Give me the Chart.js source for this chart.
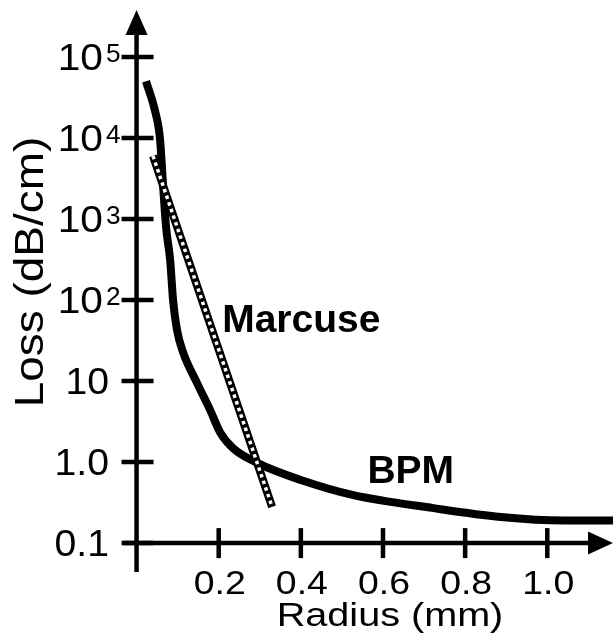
<!DOCTYPE html>
<html>
<head>
<meta charset="utf-8">
<script src="https://cdn.jsdelivr.net/npm/chart.js@4"></script>
<style>
  html, body { margin: 0; padding: 0; background: #fff; }
  #wrap { width: 613px; height: 643px; }
</style>
</head>
<body>
<div id="wrap"><canvas id="lossChart"></canvas></div>
<script>
// data
const bpmRadius = [0.023, 0.045, 0.057, 0.065, 0.072, 0.082, 0.089, 0.0985, 0.113, 0.148, 0.179, 0.204, 0.235, 0.295, 0.40, 0.528, 0.723, 0.887, 1.04, 1.16]
const bpmLoss = [50000, 21500, 9800, 2400, 780, 305, 98, 42.6, 22.8, 9.3, 4.4, 2.3, 1.48, 0.97, 0.6, 0.39, 0.27, 0.21, 0.19, 0.19]
const marcuseRadius = [0.04, 0.33]
const marcuseLoss = [6000, 0.28]

const xTicks = [0.2, 0.4, 0.6, 0.8, 1.0]
const xTickLabels = ['0.2', '0.4', '0.6', '0.8', '1.0']
const yTicks = [1e5, 1e4, 1e3, 1e2, 10, 1, 0.1]
const yTickBase = ['10', '10', '10', '10', '10', '1.0', '0.1']
const yTickExp = ['5', '4', '3', '2', '', '', '']

const curveNames = ['Marcuse', 'BPM']
const curveLabelAt = [[0.2085, 40], [0.562, 0.55]]

const FONT = '"Liberation Sans", Arial, Helvetica, sans-serif'

function txt(ctx, s, x, y, size, sx, align, bold) {
  ctx.save()
  ctx.font = (bold ? 'bold ' : '') + size + 'px ' + FONT
  ctx.fillStyle = '#000'
  ctx.textAlign = align
  ctx.textBaseline = 'alphabetic'
  ctx.translate(x, y)
  ctx.scale(sx, 1)
  ctx.fillText(s, 0, 0)
  ctx.restore()
}

// axes with arrows, ticks crossing the axis, and all text
const axesPlugin = {
  id: 'axesPlugin',
  beforeDatasetsDraw(chart) {
    const ctx = chart.ctx
    const xs = chart.scales.x, ys = chart.scales.y
    const a = chart.chartArea
    const x0 = xs.getPixelForValue(0)
    const y0 = ys.getPixelForValue(0.1)
    ctx.save()
    ctx.strokeStyle = '#000'
    ctx.fillStyle = '#000'
    ctx.lineWidth = 4.5
    ctx.lineCap = 'butt'
    // y axis
    ctx.beginPath()
    ctx.moveTo(x0, a.bottom)
    ctx.lineTo(x0, a.top + 20)
    ctx.stroke()
    ctx.beginPath()
    ctx.moveTo(x0, a.top)
    ctx.lineTo(x0 - 11, a.top + 25)
    ctx.lineTo(x0 + 11, a.top + 25)
    ctx.closePath()
    ctx.fill()
    // x axis
    ctx.beginPath()
    ctx.moveTo(a.left, y0)
    ctx.lineTo(a.right - 20, y0)
    ctx.stroke()
    ctx.beginPath()
    ctx.moveTo(a.right, y0)
    ctx.lineTo(a.right - 25, y0 - 11.5)
    ctx.lineTo(a.right - 25, y0 + 11.5)
    ctx.closePath()
    ctx.fill()
    // y ticks
    yTicks.forEach(v => {
      const py = ys.getPixelForValue(v)
      ctx.beginPath()
      ctx.moveTo(x0 - 15, py)
      ctx.lineTo(x0 + 17, py)
      ctx.stroke()
    })
    // x ticks
    xTicks.forEach(v => {
      const px = xs.getPixelForValue(v)
      ctx.beginPath()
      ctx.moveTo(px, y0 - 15)
      ctx.lineTo(px, y0 + 15)
      ctx.stroke()
    })
    ctx.restore()

    // y tick labels
    yTicks.forEach((v, i) => {
      const py = ys.getPixelForValue(v)
      if (yTickExp[i]) {
        txt(ctx, yTickBase[i], 103, py + 13, 37, 1.1, 'right')
        txt(ctx, yTickExp[i], 106, py + 5, 25, 1.05, 'left')
      } else {
        txt(ctx, yTickBase[i], 109, py + 13, 37, 1.06, 'right')
      }
    })
    // x tick labels
    xTicks.forEach((v, i) => {
      txt(ctx, xTickLabels[i], xs.getPixelForValue(v) + 1, y0 + 51, 34, 1.1, 'center')
    })
    // axis titles
    txt(ctx, 'Radius (mm)', 390, 626, 33, 1.2, 'center')
    ctx.save()
    ctx.translate(43, 272)
    ctx.rotate(-Math.PI / 2)
    txt(ctx, 'Loss (dB/cm)', 0, 0, 41, 1.12, 'center')
    ctx.restore()
    // curve names
    curveNames.forEach((n, i) => {
      const p = curveLabelAt[i]
      txt(ctx, n, xs.getPixelForValue(p[0]), ys.getPixelForValue(p[1]), 39, 1, 'left', true)
    })
  }
}

const ctx = document.getElementById('lossChart').getContext('2d')
const chart = new Chart(ctx, {
  type: 'scatter',
  data: {
    datasets: [
      {
        label: 'BPM',
        data: bpmRadius.map((r, i) => ({ x: r, y: bpmLoss[i] })),
        showLine: true,
        borderColor: '#000',
        borderWidth: 8,
        borderCapStyle: 'butt',
        cubicInterpolationMode: 'monotone',
        pointRadius: 0,
        order: 2,
      },
      {
        // black body of the checkered Marcuse line
        label: 'Marcuse',
        data: marcuseRadius.map((r, i) => ({ x: r, y: marcuseLoss[i] })),
        showLine: true,
        borderColor: '#000',
        borderWidth: 8,
        borderCapStyle: 'butt',
        pointRadius: 0,
        order: 1,
      },
      {
        // white checks on top
        label: 'Marcuse dots',
        data: marcuseRadius.map((r, i) => ({ x: r, y: marcuseLoss[i] })),
        showLine: true,
        borderColor: '#fff',
        borderWidth: 3.5,
        borderDash: [3.5, 3.5],
        borderCapStyle: 'butt',
        pointRadius: 0,
        order: 0,
      },
    ],
  },
  options: {
    responsive: true,
    maintainAspectRatio: false,
    animation: false,
    layout: { padding: { left: 123, right: 0, top: 10, bottom: 71 } },
    plugins: {
      legend: { display: false },
      tooltip: { enabled: false },
    },
    scales: {
      x: { type: 'linear', min: -0.033, max: 1.16, display: false },
      y: { type: 'logarithmic', min: 0.044, max: 379000, display: false },
    },
  },
  plugins: [axesPlugin],
})
</script>
</body>
</html>
